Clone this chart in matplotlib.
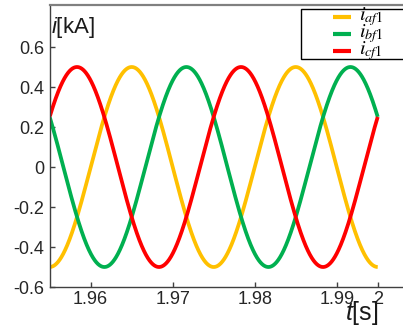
import numpy as np
import matplotlib
matplotlib.use("Agg")
import matplotlib.pyplot as plt
from matplotlib.patches import Rectangle
from matplotlib.lines import Line2D

# ---- data ----
series_names = [r"$i_{af\mathrm{1}}$", r"$i_{bf\mathrm{1}}$", r"$i_{cf\mathrm{1}}$"]
series_colors = ["#FFC000", "#00B050", "#FF0000"]
amplitudes = [0.5, 0.5, 0.5]            # kA
frequency = 50.0                         # Hz
peak_times = [1.965, 1.97167, 1.95833]   # time of a positive peak of each phase [s]
t_start, t_end = 1.955, 1.995
x_ticks = [1.96, 1.97, 1.98, 1.99, 1.995]
x_ticklabels = ["1.96", "1.97", "1.98", "1.99", "2"]
y_ticks = [-0.6, -0.4, -0.2, 0.0, 0.2, 0.4, 0.6]
y_ticklabels = ["-0.6", "-0.4", "-0.2", "0", "0.2", "0.4", "0.6"]

plt.rcParams["font.family"] = ["Liberation Sans", "DejaVu Sans"]
plt.rcParams["mathtext.fontset"] = "custom"
plt.rcParams["mathtext.rm"] = "Liberation Sans"
plt.rcParams["mathtext.it"] = "Liberation Sans:italic"

W, H = 403, 329
fig = plt.figure(figsize=(W / 100, H / 100), dpi=100)
ax = fig.add_axes([50 / W, 1 - 287 / H, 362 / W, 282 / H])

t = np.linspace(t_start, t_end, 2000)
lines = []
for name, col, A, tp in zip(series_names, series_colors, amplitudes, peak_times):
    ln, = ax.plot(t, A * np.cos(2 * np.pi * frequency * (t - tp)), color=col, lw=2.7,
                  label=name, solid_capstyle="butt")
    lines.append(ln)

ax.set_xlim(1.95504, 1.99918)
ax.set_ylim(-0.6, 0.81)
ax.set_xticks(x_ticks)
ax.set_xticklabels(x_ticklabels)
ax.set_yticks(y_ticks)
ax.set_yticklabels(y_ticklabels)
ax.tick_params(direction="in", length=3.5, width=1, colors="#404040",
               labelcolor="#262626", labelsize=13)
ax.tick_params(axis="x", pad=3)
ax.tick_params(axis="y", pad=4)

for s in ["left", "bottom"]:
    ax.spines[s].set_color("#404040")
    ax.spines[s].set_linewidth(1.0)
ax.spines["top"].set_color("#808080")
ax.spines["top"].set_linewidth(1.6)
ax.spines["right"].set_visible(False)

fig.text(51 / W, 1 - 28 / H, r"$i$[kA]", fontsize=16, color="#1a1a1a", va="center", ha="left")
fig.text(345 / W, 1 - 320 / H, r"$t$[s]", fontsize=18, color="#1a1a1a", va="baseline", ha="left")

# legend: square black frame, short handles, serif math labels
frame = Rectangle((301 / W, 1 - 59 / H), 110 / W, 50 / H, transform=fig.transFigure,
                  facecolor="white", edgecolor="black", lw=1.0, zorder=4, clip_on=False)
ax.add_patch(frame)
for k, ln in enumerate(lines):
    y_px = 17 + 17 * k
    fig.add_artist(Line2D([333 / W, 351 / W], [1 - y_px / H, 1 - y_px / H],
                          transform=fig.transFigure, color=ln.get_color(), lw=3,
                          solid_capstyle="butt", zorder=6))
    fig.text(359 / W, 1 - (y_px + 3.5) / H, ln.get_label(), fontsize=14.5,
             va="baseline", ha="left", color="black", math_fontfamily="stix", zorder=6)

fig.savefig("out.png", dpi=100)
